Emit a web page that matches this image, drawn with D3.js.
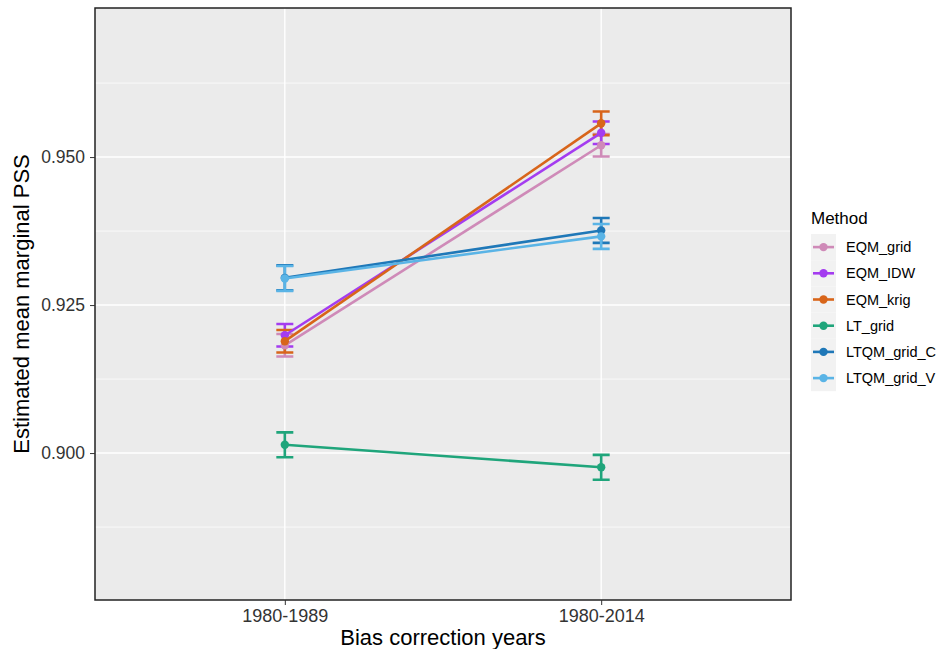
<!DOCTYPE html>
<html><head><meta charset="utf-8">
<script src="https://cdn.jsdelivr.net/npm/d3@7"></script>
<style>body{margin:0;background:#fff}svg{display:block;font-family:"Liberation Sans",Arial,sans-serif}</style>
</head><body><svg id="c" width="943" height="649"></svg>
<script>
const categories = ["1980-1989", "1980-2014"];
const methods = ["EQM_grid", "EQM_IDW", "EQM_krig", "LT_grid", "LTQM_grid_C", "LTQM_grid_V"];
const colors = ["#cf8ab8", "#a43cf0", "#d8651a", "#1fa57b", "#1f78b8", "#5ab4e6"];
const means = {
  EQM_grid:    [0.9182, 0.9520],
  EQM_IDW:     [0.9199, 0.9541],
  EQM_krig:    [0.9189, 0.9557],
  LT_grid:     [0.9014, 0.8976],
  LTQM_grid_C: [0.9296, 0.9376],
  LTQM_grid_V: [0.9295, 0.9366]
};
const halfCI = {
  EQM_grid:    [0.0019, 0.0019],
  EQM_IDW:     [0.0019, 0.0019],
  EQM_krig:    [0.0019, 0.0020],
  LT_grid:     [0.0021, 0.0021],
  LTQM_grid_C: [0.0021, 0.0021],
  LTQM_grid_V: [0.0021, 0.0021]
};
const yTicks = [0.900, 0.925, 0.950];
const yMinor = [0.8875, 0.9125, 0.9375, 0.9625];

const svg = d3.select("#c");
const L = 95, R = 791, T = 8, B = 600;
const x = d3.scalePoint().domain(categories).range([L, R]).padding(0.6);
const y = d3.scaleLinear().domain([0.87518, 0.97518]).range([B, T]);

svg.append("rect").attr("x", L).attr("y", T).attr("width", R - L).attr("height", B - T).attr("fill", "#ebebeb");
const g = svg.append("g");
g.selectAll(".mn").data(yMinor).join("line").attr("x1", L).attr("x2", R)
  .attr("y1", d => y(d)).attr("y2", d => y(d)).attr("stroke", "#fff").attr("stroke-width", 0.7);
g.selectAll(".mj").data(yTicks).join("line").attr("x1", L).attr("x2", R)
  .attr("y1", d => y(d)).attr("y2", d => y(d)).attr("stroke", "#fff").attr("stroke-width", 1.4);
g.selectAll(".vx").data(categories).join("line").attr("y1", T).attr("y2", B)
  .attr("x1", d => x(d)).attr("x2", d => x(d)).attr("stroke", "#fff").attr("stroke-width", 1.4);

const data = methods.map((m, i) => ({m, c: colors[i], v: categories.map((cat, j) => ({cat, v: means[m][j], h: halfCI[m][j]}))}));
const line = d3.line().x(d => x(d.cat)).y(d => y(d.v));
const ew = 8.5;
data.forEach(s => {
  const gs = svg.append("g");
  gs.selectAll(".eb").data(s.v).join("path")
    .attr("d", d => `M${x(d.cat)-ew},${y(d.v+d.h)}H${x(d.cat)+ew}M${x(d.cat)},${y(d.v+d.h)}V${y(d.v-d.h)}M${x(d.cat)-ew},${y(d.v-d.h)}H${x(d.cat)+ew}`)
    .attr("stroke", s.c).attr("stroke-width", 2.6).attr("fill", "none");
});
data.forEach(s => {
  const gs = svg.append("g");
  gs.append("path").datum(s.v).attr("d", line).attr("stroke", s.c).attr("stroke-width", 2.6).attr("fill", "none");
  gs.selectAll("circle").data(s.v).join("circle").attr("cx", d => x(d.cat)).attr("cy", d => y(d.v))
    .attr("r", 4.2).attr("fill", s.c);
});

svg.append("rect").attr("x", L).attr("y", T).attr("width", R - L).attr("height", B - T)
  .attr("fill", "none").attr("stroke", "#222").attr("stroke-width", 1.5);

// axes
const ya = svg.append("g").attr("transform", `translate(${L},0)`)
  .call(d3.axisLeft(y).tickValues(yTicks).tickFormat(d3.format(".3f")).tickSize(5).tickPadding(5));
ya.select(".domain").remove();
ya.selectAll("text").attr("font-size", 17.5).attr("fill", "#333").style("font-family", "Liberation Sans, Arial, sans-serif");
ya.selectAll("line").attr("stroke", "#333");
const xa = svg.append("g").attr("transform", `translate(0,${B})`)
  .call(d3.axisBottom(x).tickSize(5).tickPadding(4));
xa.select(".domain").remove();
xa.selectAll("text").attr("font-size", 18).attr("fill", "#333").style("font-family", "Liberation Sans, Arial, sans-serif");
xa.selectAll("line").attr("stroke", "#333");

svg.append("text").attr("x", (L + R) / 2).attr("y", 645).attr("text-anchor", "middle")
  .attr("font-size", 22).attr("fill", "#000").text("Bias correction years");
svg.append("text").attr("transform", `translate(29,${(T + B) / 2}) rotate(-90)`).attr("text-anchor", "middle")
  .attr("font-size", 22).attr("fill", "#000").text("Estimated mean marginal PSS");

// legend
const lg = svg.append("g").attr("transform", "translate(811,0)");
lg.append("text").attr("x", 0).attr("y", 224).attr("font-size", 17).attr("fill", "#000").text("Method");
const ks = 26.2, k0 = 234;
methods.forEach((m, i) => {
  const yy = k0 + i * ks;
  lg.append("rect").attr("x", 0).attr("y", yy).attr("width", 25).attr("height", ks).attr("fill", "#f2f2f2");
  lg.append("line").attr("x1", 2).attr("x2", 23).attr("y1", yy + ks / 2).attr("y2", yy + ks / 2)
    .attr("stroke", colors[i]).attr("stroke-width", 2.6);
  lg.append("circle").attr("cx", 12.5).attr("cy", yy + ks / 2).attr("r", 4.2).attr("fill", colors[i]);
  lg.append("text").attr("x", 35).attr("y", yy + ks / 2 + 5).attr("font-size", 14.5).attr("fill", "#000").text(m);
});
</script></body></html>
